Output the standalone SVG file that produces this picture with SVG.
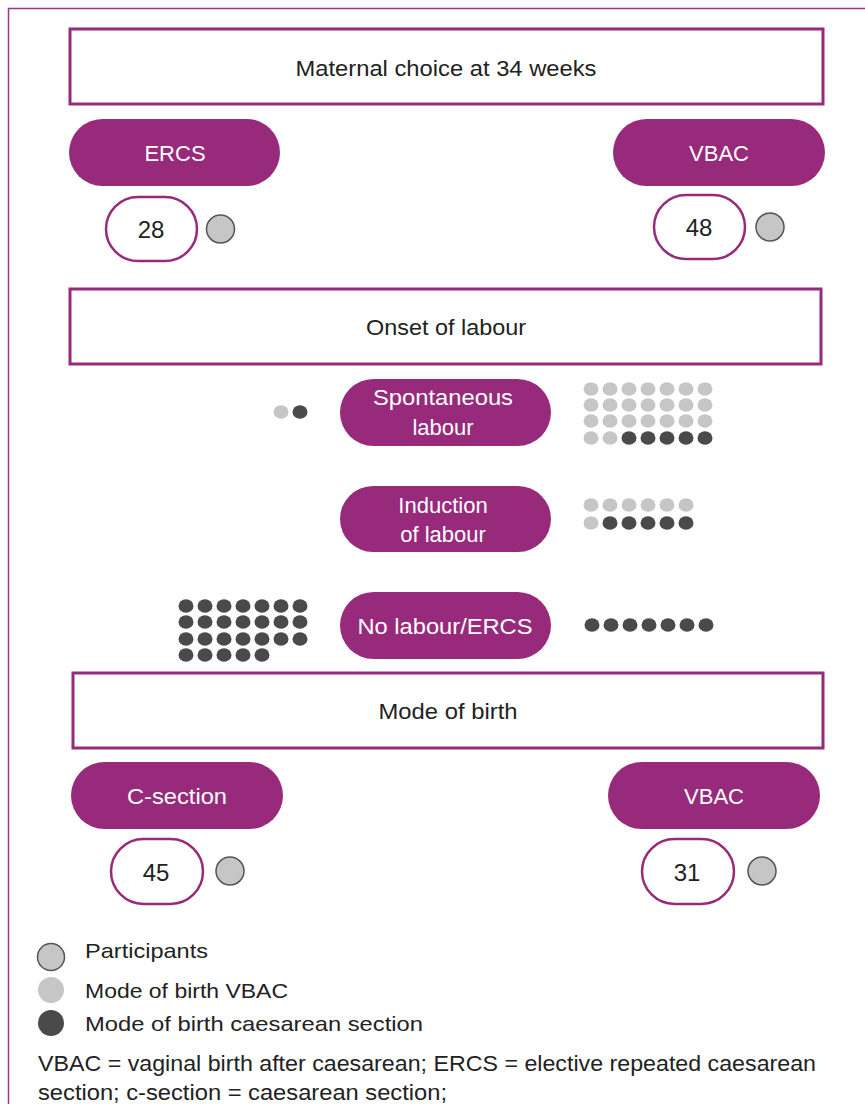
<svg xmlns="http://www.w3.org/2000/svg" width="865" height="1104" viewBox="0 0 865 1104">
<style>
.frame{fill:none;stroke:#a8327f;stroke-width:1.5}
.box{fill:#fff;stroke:#982a7c;stroke-width:3}
.pill{fill:#982a7c}
.num{fill:#fff;stroke:#982a7c;stroke-width:2.5}
.part{fill:#c6c6c6;stroke:#555;stroke-width:1.5}
.lt{fill:#c6c6c6}
.dk{fill:#4a4a4d}
text{font-family:"Liberation Sans",Arial,sans-serif;font-size:22px}
.bt{fill:#222;text-anchor:middle}
.nt{font-size:24px}
.pt{fill:#fff;text-anchor:middle}
.lg{fill:#222;font-size:21px}
</style>
<rect class="frame" x="8.5" y="8.5" width="900" height="1200"/>
<g id="maternal-choice"><rect class="box" x="70" y="29" width="753" height="75"/><text class="bt" x="446" y="76" textLength="301" lengthAdjust="spacingAndGlyphs">Maternal choice at 34 weeks</text></g>
<g id="ercs-top"><rect class="pill" x="69" y="119" width="211" height="67" rx="33.5"/><text class="pt" x="175" y="161">ERCS</text></g>
<g id="vbac-top"><rect class="pill" x="613" y="119" width="212" height="67" rx="33.5"/><text class="pt" x="719" y="161">VBAC</text></g>
<g id="n28"><rect class="num" x="106" y="197" width="91" height="64" rx="32"/><text class="bt nt" x="151" y="238">28</text><circle class="part" cx="220.5" cy="229" r="14"/></g>
<g id="n48"><rect class="num" x="654" y="195" width="91" height="64" rx="32"/><text class="bt nt" x="699" y="236">48</text><circle class="part" cx="770" cy="227" r="14"/></g>
<g id="onset"><rect class="box" x="70" y="289" width="751" height="75"/><text class="bt" x="446" y="335" textLength="160" lengthAdjust="spacingAndGlyphs">Onset of labour</text></g>
<g id="spontaneous"><rect class="pill" x="340" y="379" width="211" height="67" rx="33.5"/><text class="pt" x="443" y="405" textLength="140" lengthAdjust="spacingAndGlyphs">Spontaneous</text><text class="pt" x="443" y="435">labour</text></g>
<g id="induction"><rect class="pill" x="340" y="486" width="211" height="66" rx="33"/><text class="pt" x="443" y="513">Induction</text><text class="pt" x="443" y="542">of labour</text></g>
<g id="no-labour"><rect class="pill" x="340" y="592" width="211" height="67" rx="33.5"/><text class="pt" x="445" y="634" textLength="175" lengthAdjust="spacingAndGlyphs">No labour/ERCS</text></g>
<g id="mode-of-birth"><rect class="box" x="73" y="673" width="750" height="75"/><text class="bt" x="448" y="719" textLength="139" lengthAdjust="spacingAndGlyphs">Mode of birth</text></g>
<g id="csection"><rect class="pill" x="71" y="762" width="212" height="67" rx="33.5"/><text class="pt" x="177" y="804" textLength="100" lengthAdjust="spacingAndGlyphs">C-section</text></g>
<g id="vbac-bottom"><rect class="pill" x="608" y="762" width="212" height="67" rx="33.5"/><text class="pt" x="714" y="804">VBAC</text></g>
<g id="n45"><rect class="num" x="111" y="839" width="92" height="65" rx="32.5"/><text class="bt nt" x="156" y="881">45</text><circle class="part" cx="230" cy="871" r="14"/></g>
<g id="n31"><rect class="num" x="642" y="839" width="92" height="65" rx="32.5"/><text class="bt nt" x="687" y="881">31</text><circle class="part" cx="762" cy="871" r="14"/></g>
<g id="dots-spontaneous-left">
<ellipse class="lt" cx="281" cy="412" rx="7.5" ry="6.8"/><ellipse class="dk" cx="300" cy="412" rx="7.5" ry="6.8"/>
</g>
<g id="dots-spontaneous-right">
<g class="lt">
<ellipse cx="591" cy="389" rx="7.5" ry="6.8"/><ellipse cx="610" cy="389" rx="7.5" ry="6.8"/><ellipse cx="629" cy="389" rx="7.5" ry="6.8"/><ellipse cx="648" cy="389" rx="7.5" ry="6.8"/><ellipse cx="667" cy="389" rx="7.5" ry="6.8"/><ellipse cx="686" cy="389" rx="7.5" ry="6.8"/><ellipse cx="705" cy="389" rx="7.5" ry="6.8"/>
<ellipse cx="591" cy="405" rx="7.5" ry="6.8"/><ellipse cx="610" cy="405" rx="7.5" ry="6.8"/><ellipse cx="629" cy="405" rx="7.5" ry="6.8"/><ellipse cx="648" cy="405" rx="7.5" ry="6.8"/><ellipse cx="667" cy="405" rx="7.5" ry="6.8"/><ellipse cx="686" cy="405" rx="7.5" ry="6.8"/><ellipse cx="705" cy="405" rx="7.5" ry="6.8"/>
<ellipse cx="591" cy="421" rx="7.5" ry="6.8"/><ellipse cx="610" cy="421" rx="7.5" ry="6.8"/><ellipse cx="629" cy="421" rx="7.5" ry="6.8"/><ellipse cx="648" cy="421" rx="7.5" ry="6.8"/><ellipse cx="667" cy="421" rx="7.5" ry="6.8"/><ellipse cx="686" cy="421" rx="7.5" ry="6.8"/><ellipse cx="705" cy="421" rx="7.5" ry="6.8"/>
<ellipse cx="591" cy="438" rx="7.5" ry="6.8"/><ellipse cx="610" cy="438" rx="7.5" ry="6.8"/>
</g>
<g class="dk">
<ellipse cx="629" cy="438" rx="7.5" ry="6.8"/><ellipse cx="648" cy="438" rx="7.5" ry="6.8"/><ellipse cx="667" cy="438" rx="7.5" ry="6.8"/><ellipse cx="686" cy="438" rx="7.5" ry="6.8"/><ellipse cx="705" cy="438" rx="7.5" ry="6.8"/>
</g>
</g>
<g id="dots-induction-right">
<g class="lt">
<ellipse cx="591" cy="505" rx="7.5" ry="6.8"/><ellipse cx="610" cy="505" rx="7.5" ry="6.8"/><ellipse cx="629" cy="505" rx="7.5" ry="6.8"/><ellipse cx="648" cy="505" rx="7.5" ry="6.8"/><ellipse cx="667" cy="505" rx="7.5" ry="6.8"/><ellipse cx="686" cy="505" rx="7.5" ry="6.8"/>
<ellipse cx="591" cy="523" rx="7.5" ry="6.8"/>
</g>
<g class="dk">
<ellipse cx="610" cy="523" rx="7.5" ry="6.8"/><ellipse cx="629" cy="523" rx="7.5" ry="6.8"/><ellipse cx="648" cy="523" rx="7.5" ry="6.8"/><ellipse cx="667" cy="523" rx="7.5" ry="6.8"/><ellipse cx="686" cy="523" rx="7.5" ry="6.8"/>
</g>
</g>
<g id="dots-nolabour-right" class="dk">
<ellipse cx="592" cy="625" rx="7.5" ry="6.8"/><ellipse cx="611" cy="625" rx="7.5" ry="6.8"/><ellipse cx="630" cy="625" rx="7.5" ry="6.8"/><ellipse cx="649" cy="625" rx="7.5" ry="6.8"/><ellipse cx="668" cy="625" rx="7.5" ry="6.8"/><ellipse cx="687" cy="625" rx="7.5" ry="6.8"/><ellipse cx="706" cy="625" rx="7.5" ry="6.8"/>
</g>
<g id="dots-nolabour-left" class="dk">
<ellipse cx="186" cy="606" rx="7.5" ry="6.8"/><ellipse cx="205" cy="606" rx="7.5" ry="6.8"/><ellipse cx="224" cy="606" rx="7.5" ry="6.8"/><ellipse cx="243" cy="606" rx="7.5" ry="6.8"/><ellipse cx="262" cy="606" rx="7.5" ry="6.8"/><ellipse cx="281" cy="606" rx="7.5" ry="6.8"/><ellipse cx="300" cy="606" rx="7.5" ry="6.8"/>
<ellipse cx="186" cy="622" rx="7.5" ry="6.8"/><ellipse cx="205" cy="622" rx="7.5" ry="6.8"/><ellipse cx="224" cy="622" rx="7.5" ry="6.8"/><ellipse cx="243" cy="622" rx="7.5" ry="6.8"/><ellipse cx="262" cy="622" rx="7.5" ry="6.8"/><ellipse cx="281" cy="622" rx="7.5" ry="6.8"/><ellipse cx="300" cy="622" rx="7.5" ry="6.8"/>
<ellipse cx="186" cy="639" rx="7.5" ry="6.8"/><ellipse cx="205" cy="639" rx="7.5" ry="6.8"/><ellipse cx="224" cy="639" rx="7.5" ry="6.8"/><ellipse cx="243" cy="639" rx="7.5" ry="6.8"/><ellipse cx="262" cy="639" rx="7.5" ry="6.8"/><ellipse cx="281" cy="639" rx="7.5" ry="6.8"/><ellipse cx="300" cy="639" rx="7.5" ry="6.8"/>
<ellipse cx="186" cy="655" rx="7.5" ry="6.8"/><ellipse cx="205" cy="655" rx="7.5" ry="6.8"/><ellipse cx="224" cy="655" rx="7.5" ry="6.8"/><ellipse cx="243" cy="655" rx="7.5" ry="6.8"/><ellipse cx="262" cy="655" rx="7.5" ry="6.8"/>
</g>
<g id="connectors"></g>
<g id="legend">
<circle class="part" cx="51" cy="957" r="13.5"/><text class="lg" x="85" y="958" textLength="123" lengthAdjust="spacingAndGlyphs">Participants</text>
<circle class="lt" cx="51" cy="990" r="13"/><text class="lg" x="85" y="998" textLength="203" lengthAdjust="spacingAndGlyphs">Mode of birth VBAC</text>
<circle class="dk" cx="51" cy="1023" r="13"/><text class="lg" x="85" y="1031" textLength="338" lengthAdjust="spacingAndGlyphs">Mode of birth caesarean section</text>
</g>
<g id="footnote">
<text class="lg" x="38" y="1071" style="font-size:22px" textLength="778" lengthAdjust="spacingAndGlyphs">VBAC = vaginal birth after caesarean; ERCS = elective repeated caesarean</text>
<text class="lg" x="38" y="1100" style="font-size:22px" textLength="409" lengthAdjust="spacingAndGlyphs">section; c-section = caesarean section;</text>
</g>
</svg>
